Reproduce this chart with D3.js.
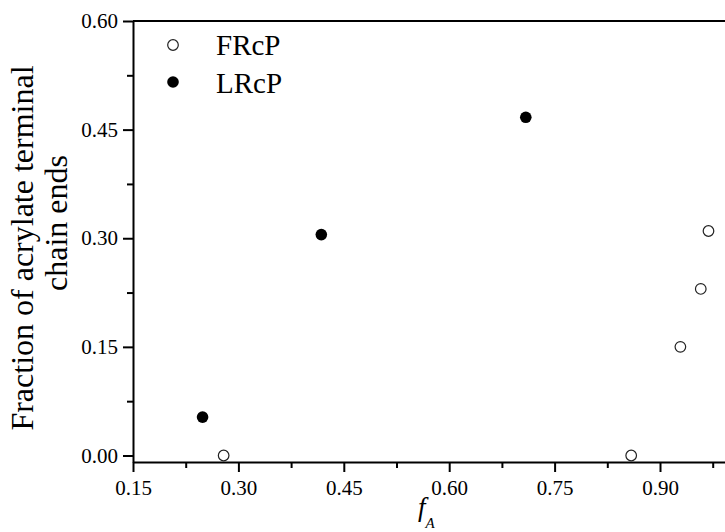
<!DOCTYPE html>
<html>
<head>
<meta charset="utf-8">
<script src="https://cdn.jsdelivr.net/npm/d3@7"></script>
<style>
  html, body { margin: 0; padding: 0; background: #fff; }
  svg { display: block; }
  text { font-family: "Liberation Serif", "Times New Roman", serif; fill: #000; }
</style>
</head>
<body>
<svg id="chart" width="725" height="532"></svg>
<script>
// ---- data ----
const frcpX = [0.279, 0.859, 0.929, 0.958, 0.969];
const frcpY = [0.000, 0.000, 0.150, 0.230, 0.310];
const lrcpX = [0.249, 0.418, 0.709];
const lrcpY = [0.053, 0.305, 0.467];
const seriesNames = ["FRcP", "LRcP"];
const xTicks = [0.15, 0.30, 0.45, 0.60, 0.75, 0.90];
const xMinorTicks = [0.225, 0.375, 0.525, 0.675, 0.825, 0.975];
const yTicks = [0.00, 0.15, 0.30, 0.45, 0.60];
const yMinorTicks = [0.075, 0.225, 0.375, 0.525];
const yTitleLines = ["Fraction of acrylate terminal", "chain ends"];

// ---- layout ----
const svg = d3.select("#chart");
const mLeft = 133, mTop = 21, mBottom = 462, mRight = 725;

const x = d3.scaleLinear().domain([0.15, 0.9925]).range([mLeft, mRight]);
const y = d3.scaleLinear().domain([-0.009, 0.60]).range([mBottom, mTop]);

// top frame line
svg.append("line")
  .attr("x1", mLeft).attr("x2", mRight)
  .attr("y1", mTop).attr("y2", mTop)
  .attr("stroke", "#000").attr("stroke-width", 2);

// minor ticks
svg.append("g").attr("transform", `translate(0,${mBottom})`)
  .call(d3.axisBottom(x).tickValues(xMinorTicks).tickSize(6).tickFormat(""))
  .call(g => g.select(".domain").remove())
  .call(g => g.selectAll("line").attr("stroke-width", 2));
svg.append("g").attr("transform", `translate(${mLeft},0)`)
  .call(d3.axisLeft(y).tickValues(yMinorTicks).tickSize(6).tickFormat(""))
  .call(g => g.select(".domain").remove())
  .call(g => g.selectAll("line").attr("stroke-width", 2));

// major axes
const xAxis = svg.append("g").attr("transform", `translate(0,${mBottom})`)
  .call(d3.axisBottom(x).tickValues(xTicks).tickSize(10).tickSizeOuter(0)
        .tickPadding(8).tickFormat(d3.format(".2f")));
xAxis.select(".domain").attr("stroke-width", 2);
xAxis.selectAll("line").attr("stroke-width", 2);
xAxis.selectAll("text").style("font-size", "21px")
  .style("font-family", '"Liberation Serif", serif');

const yAxis = svg.append("g").attr("transform", `translate(${mLeft},0)`)
  .call(d3.axisLeft(y).tickValues(yTicks).tickSize(10).tickSizeOuter(0)
        .tickPadding(5).tickFormat(d3.format(".2f")));
yAxis.select(".domain").attr("stroke-width", 2);
yAxis.selectAll("line").attr("stroke-width", 2);
yAxis.selectAll("text").style("font-size", "21px")
  .style("font-family", '"Liberation Serif", serif');

// ---- points ----
const frcp = frcpX.map((v, i) => ({ x: v, y: frcpY[i] }));
const lrcp = lrcpX.map((v, i) => ({ x: v, y: lrcpY[i] }));

svg.append("g").selectAll("circle").data(frcp).join("circle")
  .attr("cx", d => x(d.x)).attr("cy", d => y(d.y)).attr("r", 5.3)
  .attr("fill", "#fff").attr("stroke", "#222").attr("stroke-width", 1.2);

svg.append("g").selectAll("circle").data(lrcp).join("circle")
  .attr("cx", d => x(d.x)).attr("cy", d => y(d.y)).attr("r", 5.8)
  .attr("fill", "#000");

// ---- legend ----
const leg = svg.append("g");
leg.append("circle").attr("cx", 173).attr("cy", 45).attr("r", 5.3)
  .attr("fill", "#fff").attr("stroke", "#222").attr("stroke-width", 1.2);
leg.append("text").attr("x", 216).attr("y", 55).style("font-size", "29px").text(seriesNames[0]);
leg.append("circle").attr("cx", 173).attr("cy", 82).attr("r", 5.8).attr("fill", "#000");
leg.append("text").attr("x", 216).attr("y", 93).style("font-size", "29px").text(seriesNames[1]);

// ---- axis titles ----
svg.append("text")
  .attr("transform", "translate(33,248) rotate(-90)")
  .attr("text-anchor", "middle").style("font-size", "32px")
  .text(yTitleLines[0]);
svg.append("text")
  .attr("transform", "translate(67,223) rotate(-90)")
  .attr("text-anchor", "middle").style("font-size", "32px")
  .text(yTitleLines[1]);

const xt = svg.append("text").attr("x", 418).attr("y", 516)
  .style("font-size", "27px").style("font-style", "italic");
xt.append("tspan").text("f");
xt.append("tspan").attr("dy", 12).style("font-size", "15px").text("A");
</script>
</body>
</html>
